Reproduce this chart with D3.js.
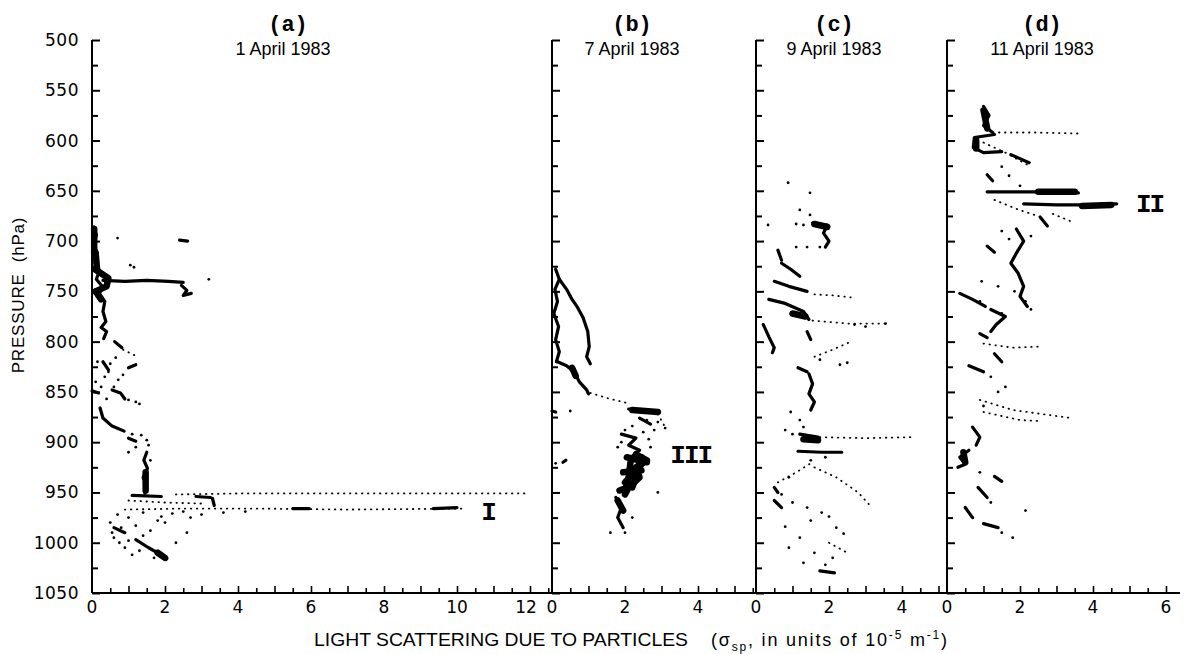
<!DOCTYPE html>
<html><head><meta charset="utf-8">
<script src="https://cdn.jsdelivr.net/npm/d3@7"></script>
<style>
html,body{margin:0;padding:0;background:#fff;}
svg{display:block;}
</style></head>
<body>
<svg id="c" width="1185" height="654"></svg>
<script>
// ---------------- DATA ----------------
const panelIds = ["(a)", "(b)", "(c)", "(d)"];
const panelDates = ["1 April 1983", "7 April 1983", "9 April 1983", "11 April 1983"];
const panelTickLabels = [[0,2,4,6,8,10,12],[0,2,4],[0,2,4],[0,2,4,6]];
const pressureTicks = [500,550,600,650,700,750,800,850,900,950,1000,1050];
const layerLabels = [
  {panel:0, text:"I",   x:10.85, p:969},
  {panel:1, text:"III", x:3.8,   p:913},
  {panel:3, text:"II",  x:5.55,  p:663}
];

// Panel (a) 1 April 1983
const aTrace = [
 [[0.05,686],[0.12,694],[0.05,704],[0.15,712],[0.08,722],[0.2,730],[0.12,738],[0.3,746],[0.2,752],[0.35,760],[0.3,770],[0.38,780],[0.25,786],[0.4,790],[0.32,797]],
 [[0.3,739],[0.9,740],[1.5,739],[2.1,740],[2.5,741]],
 [[2.45,744],[2.6,749],[2.5,754],[2.72,752]],
 [[2.4,699],[2.62,700]],
 [[0.62,800],[0.82,806]],
 [[0.0,849],[0.18,851]],
 [[0.55,848],[0.78,851],[0.9,857]],
 [[0.22,866],[0.3,876],[0.55,884],[0.88,889]],
 [[1.0,896],[1.2,899]],
 [[1.5,910],[1.42,918],[1.52,926],[1.4,935],[1.5,944],[1.45,951]],
 [[1.1,953],[1.9,954]],
 [[2.85,954],[3.25,955]],
 [[3.3,956],[3.35,963]],
 [[5.5,966],[5.95,966]],
 [[9.35,966],[10.0,965]],
 [[1.2,997],[1.55,1005],[1.9,1012],[2.05,1016]],
 [[0.3,820],[0.45,828]],
 [[1.2,823],[1.0,826]],
 [[0.6,985],[0.9,990]]
];
const aHeavy = [
 [[0.06,688],[0.06,712]],
 [[0.1,712],[0.14,728]],
 [[0.08,728],[0.45,737],[0.4,745],[0.1,750]],
 [[0.1,750],[0.25,758]],
 [[1.47,930],[1.47,948]],
 [[1.8,1010],[2.0,1015]]
];
const aDotted = [
 [[2.3,952],[4,951],[6,951],[8,951],[10,951],[11.95,951]],
 [[0.9,967],[2.5,966],[4.5,966],[7,967],[10.2,966]],
 [[0.85,808],[1.25,815]],
 [[1.0,958],[2.0,960],[3.0,961]]
];
const aDots = [[0.7,697],[1.05,724],[1.15,726],[3.2,738],[0.15,820],[0.5,822],[0.65,816],[0.35,835],[0.72,838],[0.1,840],[0.6,845],
 [1.0,858],[1.2,860],[1.3,862],[0.4,857],[1.1,892],[1.35,893],[1.55,903],[1.2,905],[1.0,910],[1.6,918],
 [0.7,972],[1.0,975],[1.4,970],[1.9,974],[2.2,971],[2.5,969],[0.8,985],[1.2,983],[1.6,988],[2.0,980],[0.6,995],[1.0,998],
 [0.9,1005],[1.4,993],[2.3,1000],[1.7,1015],[1.1,1012],[2.7,975],[3.0,972],[3.6,970],[4.2,969],[0.5,980],
 [0.75,1000],[1.3,1008],[0.55,990],[1.8,978],[2.6,990],[0.45,830],[0.85,833],[0.25,845],[1.5,898]];

// Panel (b) 7 April 1983
const bTrace = [
 [[0.1,728],[0.2,738],[0.08,748],[0.15,760],[0.05,772],[0.18,785],[0.1,798],[0.2,810],[0.12,820]],
 [[0.2,738],[0.4,748],[0.55,758],[0.7,766],[0.85,776],[0.98,790],[1.02,805],[0.95,815],[1.05,822]],
 [[0.15,820],[0.4,824],[0.6,830],[0.75,840],[0.95,848],[1.0,852]],
 [[0.0,869],[0.1,870]],
 [[0.3,920],[0.38,918]],
 [[2.1,867],[2.5,869],[2.95,870]],
 [[2.4,876],[2.7,882]],
 [[1.9,892],[2.3,896],[2.1,903],[2.4,908],[2.2,914]],
 [[1.75,955],[1.9,965],[1.8,975],[1.95,985]]
];
const bHeavy = [
 [[0.55,826],[0.65,834]],
 [[2.2,868],[2.9,870]],
 [[2.3,912],[2.6,918],[2.3,925],[2.4,935],[2.1,945],[2.0,952]],
 [[2.5,920],[2.0,940]],
 [[2.05,915],[2.6,920]],
 [[1.95,930],[2.45,928]],
 [[1.85,948],[2.2,943]],
 [[1.8,958],[1.95,968]],
 [[2.15,920],[2.1,935],[2.0,950]],
 [[2.45,915],[2.35,930],[2.2,945]]
];
const bDotted = [
 [[1.05,851],[1.5,856],[2.05,861]],
 [[2.9,872],[3.1,885]]
];
const bDots = [[0.5,869],[2.6,878],[2.9,880],[3.1,886],[2.8,888],[2.0,888],[1.9,900],[2.7,905],[2.9,950],[2.0,990],[0.1,921],[1.6,990],[2.2,975],
 [2.2,884],[2.5,890],[1.8,905],[2.65,897]];

// Panel (c) 9 April 1983
const cTrace = [
 [[1.55,682],[1.95,684],[1.85,692],[2.0,700],[1.9,706]],
 [[0.6,709],[0.7,719]],
 [[0.7,722],[0.95,728],[1.2,735]],
 [[0.5,740],[0.9,745],[1.4,750]],
 [[0.35,758],[0.8,762],[1.3,770],[1.45,778]],
 [[0.2,783],[0.35,795],[0.5,806],[0.45,811]],
 [[1.4,790],[1.5,798]],
 [[1.15,826],[1.4,830]],
 [[1.45,832],[1.55,842],[1.45,852],[1.6,860],[1.5,868]],
 [[1.15,909],[1.8,910],[2.35,910]],
 [[1.2,892],[1.7,895]],
 [[0.5,945],[0.6,950]],
 [[0.5,958],[0.7,965]],
 [[1.75,1028],[2.15,1030]]
];
const cHeavy = [[[1.6,683],[1.95,686]], [[1.3,897],[1.7,898]], [[1.0,772],[1.35,775]]];
const cDotted = [
 [[1.6,753],[2.1,754],[2.6,756]],
 [[1.55,779],[2.5,782],[3.6,782]],
 [[1.6,815],[2.1,808],[2.6,800]],
 [[1.75,895],[3.0,896],[4.3,895]],
 [[1.6,925],[2.2,935],[2.8,950],[3.1,962]],
 [[0.6,940],[1.1,930],[1.5,921]],
 [[2.0,1000],[2.5,1010]]
];
const cDots = [[0.88,642],[1.48,652],[1.2,669],[1.48,674],[1.1,683],[1.3,684],[0.33,684],[1.1,706],[1.4,706],[1.75,706],
 [2.7,783],[3.0,785],[3.55,782],[1.75,818],[2.3,823],[2.5,821],[0.95,870],[1.2,878],[1.3,885],[0.8,888],[1.0,892],
 [1.9,915],[1.5,918],[0.9,935],[0.7,952],[1.0,960],[1.4,965],[1.8,970],[2.0,974],[0.8,984],[1.5,978],[2.2,985],[2.4,991],
 [1.2,995],[0.9,1005],[1.6,1010],[2.1,1015],[1.3,1020],[1.9,1022]];

// Panel (d) 11 April 1983
const dTrace = [
 [[1.0,566],[1.15,575],[1.0,585],[1.25,592]],
 [[1.3,594],[0.75,597],[0.72,607],[1.0,612],[1.5,611]],
 [[1.75,614],[2.0,618],[2.25,622]],
 [[1.1,634],[1.25,640]],
 [[1.1,651],[2.0,651],[2.8,651],[3.6,652]],
 [[2.1,663],[3.0,664],[3.8,664],[4.65,663]],
 [[2.55,676],[2.75,685]],
 [[1.9,688],[2.1,700],[1.9,712],[1.75,722],[1.95,732],[2.1,745],[2.0,755],[2.2,765]],
 [[1.1,705],[1.3,711]],
 [[0.35,752],[0.7,758],[1.05,765]],
 [[1.2,768],[1.6,775],[1.35,783],[1.2,790]],
 [[0.9,792],[1.1,796]],
 [[1.3,812],[1.5,820]],
 [[0.6,824],[1.0,830]],
 [[0.7,885],[0.9,895],[0.8,903]],
 [[0.6,908],[0.35,915],[0.5,922],[0.3,925]],
 [[1.3,934],[1.5,939]],
 [[0.85,945],[1.1,955]],
 [[0.5,965],[0.7,975]],
 [[1.0,981],[1.4,985]]
];
const dHeavy = [[[1.0,570],[1.1,588]], [[0.8,600],[0.8,608]], [[2.5,651],[3.5,651]], [[3.7,665],[4.5,664]], [[0.45,910],[0.5,920]]];
const dDotted = [
 [[1.26,592],[2.4,592],[3.6,593]],
 [[1.0,602],[1.6,612],[2.2,624]],
 [[1.3,659],[1.9,668],[2.4,674]],
 [[2.9,673],[3.37,680]],
 [[1.0,802],[1.8,806],[2.5,805]],
 [[0.9,858],[1.8,868],[2.6,872],[3.4,876]],
 [[1.0,870],[2.0,878],[2.6,879]]
];
const dDots = [[1.5,626],[1.7,635],[2.0,645],[1.5,690],[2.3,695],[1.7,698],[0.95,740],[1.4,745],[1.85,750],[1.5,772],
 [2.15,760],[2.3,768],[0.9,760],[1.2,835],[1.6,845],[1.4,850],[1.0,864],[2.15,968],[1.5,990],[1.8,995],[1.2,960],[0.9,930]];

// ---------------- DRAW ----------------
const svg = d3.select("#c");
const y = d3.scaleLinear().domain([500,1050]).range([40,593]);
const panelRanges = [[92,552],[552,756],[756,947],[947,1180]];
const unitPx = 36.5;
const xs = panelRanges.map(r => d3.scaleLinear().domain([0,(r[1]-r[0])/unitPx]).range(r));
const sets = [
 {trace:aTrace, heavy:aHeavy, dotted:aDotted, dots:aDots},
 {trace:bTrace, heavy:bHeavy, dotted:bDotted, dots:bDots},
 {trace:cTrace, heavy:cHeavy, dotted:cDotted, dots:cDots},
 {trace:dTrace, heavy:dHeavy, dotted:dDotted, dots:dDots}
];
const tickFont = "'DejaVu Sans', sans-serif";

sets.forEach((s,i) => {
  const x = xs[i];
  const line = d3.line().x(d=>x(d[0])).y(d=>y(d[1])).curve(d3.curveLinear);
  const g = svg.append("g");
  g.selectAll("path.heavy").data(s.heavy).join("path")
    .attr("d", line).attr("fill","none").attr("stroke","#000").attr("stroke-width",6.5)
    .attr("stroke-linecap","round").attr("stroke-linejoin","round");
  g.selectAll("path.trace").data(s.trace).join("path")
    .attr("d", line).attr("fill","none").attr("stroke","#000").attr("stroke-width",3.2)
    .attr("stroke-linecap","round").attr("stroke-linejoin","round");
  g.selectAll("path.dotted").data(s.dotted).join("path")
    .attr("d", line).attr("fill","none").attr("stroke","#000").attr("stroke-width",1.8)
    .attr("stroke-dasharray","0.5 5.5").attr("stroke-linecap","round");
  g.selectAll("circle").data(s.dots).join("circle")
    .attr("cx", d=>x(d[0])).attr("cy", d=>y(d[1])).attr("r",1.4).attr("fill","#000");

  // left axis with inward ticks
  const minor = d3.range(525,1050,50);
  const ax = d3.axisRight(y).tickValues(pressureTicks).tickSize(8).tickFormat("");
  const axg = svg.append("g").attr("transform",`translate(${panelRanges[i][0]},0)`).call(ax);
  axg.select(".domain").attr("d",`M0,${y(500)}V${y(1050)}`).attr("stroke-width",2);
  axg.selectAll(".tick line").attr("stroke-width",2);
  const axm = d3.axisRight(y).tickValues(minor).tickSize(6).tickFormat("");
  const axmg = svg.append("g").attr("transform",`translate(${panelRanges[i][0]},0)`).call(axm);
  axmg.select(".domain").remove();
  axmg.selectAll(".tick line").attr("stroke-width",2);

  // bottom axis
  const dmax = x.domain()[1];
  const halfs = d3.range(0.5, dmax, 0.5).filter(v => Math.abs(v - Math.round(v)) > 0.01);
  const ints = d3.range(1, dmax, 1);
  const bx = d3.axisTop(x).tickValues(ints).tickSize(7).tickFormat("");
  const bxg = svg.append("g").attr("transform",`translate(0,${y(1050)})`).call(bx);
  bxg.select(".domain").attr("d",`M${x(0)},0H${x(dmax)}`).attr("stroke-width",2);
  bxg.selectAll(".tick line").attr("stroke-width",1.6);
  const bxm = d3.axisTop(x).tickValues(halfs).tickSize(5).tickFormat("");
  const bxmg = svg.append("g").attr("transform",`translate(0,${y(1050)})`).call(bxm);
  bxmg.select(".domain").remove();
  bxmg.selectAll(".tick line").attr("stroke-width",1.6);

  // x tick labels
  svg.append("g").selectAll("text").data(panelTickLabels[i]).join("text")
    .attr("x", d=>x(d) + (i===0 && d===12 ? -4 : 0)).attr("y", y(1050)+20)
    .attr("text-anchor","middle").attr("font-family",tickFont).attr("font-size",17)
    .text(d=>d);

  // titles
  const cx = [288, 632, 834, 1042][i];
  svg.append("text").attr("x",cx).attr("y",31).attr("text-anchor","middle")
    .attr("font-family","'Liberation Mono', monospace").attr("font-weight","bold").attr("font-size",22)
    .text(panelIds[i]);
  svg.append("text").attr("x",cx - (i===0?5:0)).attr("y",55).attr("text-anchor","middle")
    .attr("font-family","'Liberation Sans', Arial, sans-serif").attr("font-size",18)
    .text(panelDates[i]);
});

// y tick labels (panel a only)
svg.append("g").selectAll("text").data(pressureTicks).join("text")
  .attr("x", 79).attr("y", d=>y(d)+6).attr("text-anchor","end")
  .attr("font-family",tickFont).attr("font-size",17).attr("letter-spacing",0.5).text(d=>d);

// layer labels
layerLabels.forEach(l => {
  svg.append("text").attr("x", xs[l.panel](l.x)).attr("y", y(l.p)+8)
    .attr("text-anchor","middle").attr("font-family","'Liberation Mono', monospace")
    .attr("font-weight","bold").attr("font-size",26).attr("letter-spacing",-2).text(l.text);
});

// axis titles
svg.append("text").attr("transform",`translate(24,${295}) rotate(-90)`).attr("text-anchor","middle")
  .attr("font-family","'Liberation Sans', Arial, sans-serif").attr("font-size",17).attr("letter-spacing",0.8)
  .attr("xml:space","preserve").text("PRESSURE  (hPa)");

svg.append("text").attr("x",314).attr("y",646)
  .attr("font-family","'Liberation Sans', Arial, sans-serif").attr("font-size",19)
  .attr("textLength",374).attr("lengthAdjust","spacingAndGlyphs")
  .text("LIGHT SCATTERING DUE TO PARTICLES");
const xt = svg.append("text").attr("x",711).attr("y",646)
  .attr("font-family","'Liberation Sans', Arial, sans-serif").attr("font-size",18)
  .attr("textLength",236).attr("lengthAdjust","spacing");
xt.append("tspan").text("(σ");
xt.append("tspan").attr("font-size",12).attr("dy",5).text("sp");
xt.append("tspan").attr("dy",-5).text(", in units of 10");
xt.append("tspan").attr("font-size",12).attr("dy",-7).text("-5");
xt.append("tspan").attr("dy",7).text(" m");
xt.append("tspan").attr("font-size",12).attr("dy",-7).text("-1");
xt.append("tspan").attr("dy",7).text(")");
</script>
</body></html>
